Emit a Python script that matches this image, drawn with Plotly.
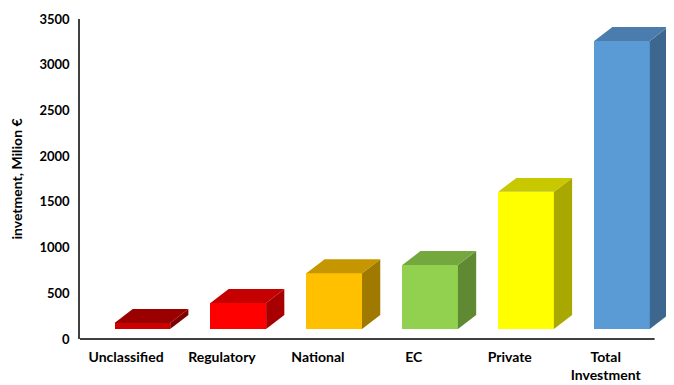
import plotly.graph_objects as go

categories = ["Unclassified", "Regulatory", "National", "EC", "Private", "Total<br>Investment"]
amounts = [65, 285, 610, 700, 1500, 3150]
floor_level = 110  # 3D floor offset of the original chart
front_colors = ["#CC0000", "#FF0000", "#FFC000", "#92D050", "#FFFF00", "#5B9BD5"]
top_colors = ["#9A0000", "#C40000", "#C69600", "#74A83F", "#C8C800", "#4A7DAE"]
side_colors = ["#800000", "#A80000", "#A07A00", "#5F8A33", "#A8A800", "#3E6790"]
y_ticks = [0, 500, 1000, 1500, 2000, 2500, 3000, 3500]

bar_shift = 0.17
bar_width = 0.58
depth_x = 0.19
depth_y = 152

fig = go.Figure()
xs = [i + bar_shift for i in range(len(categories))]

for i, amt in enumerate(amounts):
    x0 = xs[i] - bar_width / 2
    x1 = xs[i] + bar_width / 2
    b = floor_level
    t = floor_level + amt
    # side face
    fig.add_trace(go.Scatter(
        x=[x1, x1 + depth_x, x1 + depth_x, x1, x1],
        y=[b, b + depth_y, t + depth_y, t, b],
        fill="toself", fillcolor=side_colors[i], mode="lines",
        line=dict(width=0, color=side_colors[i]), hoverinfo="skip", showlegend=False))
    # top face
    fig.add_trace(go.Scatter(
        x=[x0, x0 + depth_x, x1 + depth_x, x1, x0],
        y=[t, t + depth_y, t + depth_y, t, t],
        fill="toself", fillcolor=top_colors[i], mode="lines",
        line=dict(width=0, color=top_colors[i]), hoverinfo="skip", showlegend=False))

fig.add_trace(go.Bar(
    x=xs, y=amounts, base=[floor_level] * len(amounts), width=bar_width,
    marker=dict(color=front_colors, line=dict(width=0)), showlegend=False))

x_min, x_max, axis_end = -0.48, 5.66, 5.51
font_family = "Lato, 'Open Sans', Arial, sans-serif"
# page body has an 8px default margin; figure size/margins compensate for it
fig.update_layout(
    width=666, height=377,
    margin=dict(l=72, r=5, t=11, b=46),
    plot_bgcolor="white", paper_bgcolor="white",
    font=dict(family=font_family, size=13, color="#000000", weight="bold"),
    xaxis=dict(
        range=[x_min, x_max], tickvals=list(range(len(categories))), ticktext=categories,
        showgrid=False, zeroline=False, showline=False, ticklabelstandoff=8,
        ticks="", tickfont=dict(size=14, weight="bold"), fixedrange=True, automargin=False),
    yaxis=dict(
        range=[0, 3500], tickvals=y_ticks, showgrid=False, zeroline=False,
        showline=True, linecolor="#404040", linewidth=1.5, ticks="",
        tickfont=dict(size=13, weight="bold"), ticklabelstandoff=6, automargin=False,
        title=dict(text="invetment, Milion €", font=dict(size=14, weight="bold"), standoff=14)),
    bargap=0,
    shapes=[dict(type="line", xref="paper", yref="paper",
                 x0=0, x1=(axis_end - x_min) / (x_max - x_min), y0=0, y1=0,
                 line=dict(color="#404040", width=2))],
)

fig.write_html("out.html")
